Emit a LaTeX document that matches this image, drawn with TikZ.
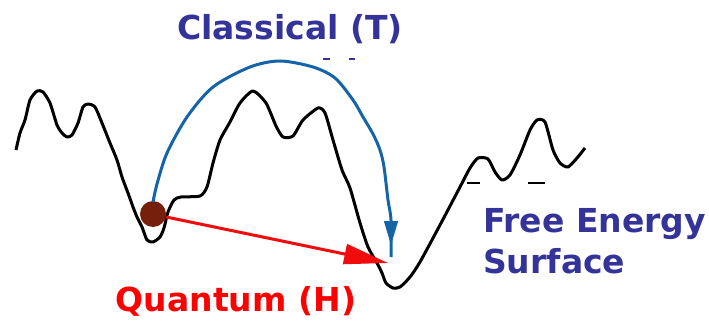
\documentclass[tikz,border=0pt]{standalone}
\usepackage{fontspec}
\newfontfamily\lblfont{DejaVu Sans}
\usetikzlibrary{arrows.meta}
\definecolor{navy}{RGB}{51,51,153}
\definecolor{arcblue}{RGB}{22,100,168}
\definecolor{ballbrown}{RGB}{118,32,12}
\definecolor{qred}{RGB}{240,12,12}
\tikzset{
  surf/.style={black,line width=3pt,line join=round},
  lbl/.style={font=\lblfont\bfseries\fontsize{33}{40}\selectfont,inner sep=0pt},
  classic/.style={arcblue,line width=3pt},
  quant/.style={qred,line width=3pt,-{Triangle[width=20pt,length=44pt]}},
  tick/.style={line width=2pt}
}
\begin{document}
\begin{tikzpicture}[x=1pt,y=-1pt]
\useasboundingbox (0,0) rectangle (709,323);
\fill[white] (0,0) rectangle (709,323);
% free energy surface
\draw[surf] plot[smooth,tension=0.4] coordinates {
 (16,150) (20,133) (25,120) (30,100) (37,91) (43,92) (50,103) (57,125) (62,133) (67,137)
 (72,135) (78,123) (83,107) (88,104) (95,107) (102,123) (110,143) (117,160) (122,177)
 (128,193) (133,207) (137,217) (142,227) (147,240) (153,242) (160,237) (164,228)
 (168,212) (174,200) (181,197) (200,196) (207,187) (213,163) (220,140) (230,122)
 (240,103) (253,91) (266,103) (276,126) (283,137) (293,136) (303,120) (318,108)
 (325,113) (333,140) (342,170) (350,188) (360,223) (368,247) (377,263) (382,273)
 (386,283) (393,288) (400,287) (410,277) (420,262) (440,225) (460,187) (470,168)
 (478,158) (488,159) (495,172) (502,180) (510,175) (520,155) (530,130) (537,120)
 (545,122) (553,150) (560,163) (568,167) (577,158) (585,148)};
\draw[tick] (467,183) -- (480,183);
\draw[tick] (528,183) -- (545,183);
\draw[tick,navy] (323,59) -- (330,59);
\draw[tick,navy] (349,59) -- (355,59);
% ball
\node[circle,fill=ballbrown,minimum size=26pt,inner sep=0pt] (ball) at (153,214) {};
\coordinate (qend) at (388,263);
\coordinate (cend) at (391,257);
\coordinate (cstart) at (153,202);
% classical path
\draw[classic] plot[smooth,tension=0.5] coordinates {
 (cstart) (157,184) (167,153) (187,117) (213,87) (250,67) (280,61) (313,67) (335,78)
 (353,100) (363,117) (373,134) (380,150) (384,167) (388,200) (391,220) (cend)};
\draw[arcblue,line width=1pt,-{Triangle[width=14pt,length=24pt]}] (391,218) -- (391,245);
% quantum path
\draw[quant] (ball.east) ++(0,3) -- (qend);
% labels
\node[lbl,text=navy,anchor=base] (cl) at (290,40) {Classical (T)};
\node[lbl,text=red,anchor=base] (qu) at (236,311) {Quantum (H)};
\node[lbl,text=navy,anchor=base west] (fe) at (483,232) {Free Energy};
\node[lbl,text=navy,anchor=base west] (sf) at (483,273) {Surface};
\end{tikzpicture}
\end{document}
